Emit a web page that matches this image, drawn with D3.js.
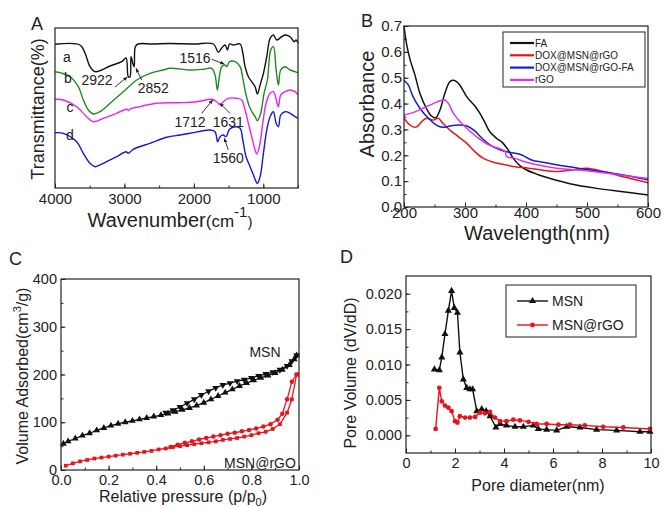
<!DOCTYPE html>
<html>
<head>
<meta charset="utf-8">
<script src="https://cdn.jsdelivr.net/npm/d3@7"></script>
<style>
body { margin: 0; background: #fff; }
svg { display: block; font-family: "Liberation Sans", Arial, sans-serif; }
</style>
</head>
<body>
<script>
// ---------- data ----------
// A: FTIR spectra (wavenumber, transmittance in arbitrary offset units)
var irA = [[4000,143.7],[3640,143],[3568,135],[3496,121.3],[3424,116.3],[3327,118],[3207,122],[3039,126.3],[2977,130],[2944,111.3],[2920,111],[2905,131.3],[2881,125],[2860,121.3],[2843,141.3],[2804,144],[2600,144],[2343,144.5],[2000,144],[1719,144],[1647,135.7],[1599,140],[1550,143],[1517,138],[1487,144],[1430,143],[1334,144],[1295,135],[1262,121.3],[1215,111.3],[1167,106.3],[1118,101.3],[1085,94],[1046,103],[998,114.7],[950,131.3],[902,149.7],[854,153],[806,148],[734,151.3],[686,153],[614,151.3],[556,146.3],[527,148],[500,145]];
var irB = [[4000,116.3],[3928,115.3],[3784,111.3],[3664,101.3],[3592,88],[3520,78],[3448,74],[3352,76.3],[3207,84.7],[3016,96.3],[2823,108],[2631,114.7],[2440,118],[2343,119.7],[2055,118],[1863,118.7],[1743,119.7],[1695,113],[1661,98],[1633,111.3],[1599,121.3],[1550,123],[1527,121.3],[1487,126.3],[1406,126.3],[1334,121.3],[1295,109.7],[1248,93],[1190,79.7],[1118,71.3],[1085,67.3],[1037,74.7],[989,94.7],[941,108],[893,138],[854,141.3],[815,118],[782,103],[749,118],[686,121.3],[614,118],[542,116.3],[500,115.3]];
var irC = [[4000,88.7],[3880,88],[3688,81.3],[3544,71.3],[3448,66.3],[3304,69.7],[3112,74.7],[2967,78.7],[2940,77.3],[2920,79],[2823,80.7],[2535,84.7],[2199,85.3],[1959,86.3],[1743,88.7],[1671,86.3],[1623,83],[1575,86.3],[1503,89.7],[1383,89.7],[1311,88],[1262,78],[1215,64.7],[1167,51.3],[1118,38],[1094,34],[1056,41.3],[1008,64.7],[960,84.7],[902,94.7],[854,96.3],[806,86.3],[782,81.3],[749,93],[686,96.3],[614,98],[542,96.3],[500,93]];
var irD = [[4000,55.3],[3880,54.7],[3688,46.3],[3592,34.7],[3496,24.7],[3424,21.3],[3304,24.7],[3112,31.3],[2977,36.3],[2944,34.7],[2872,38.7],[2631,44.7],[2391,50.7],[2199,53],[2055,54.7],[1767,58],[1695,56.3],[1657,46.3],[1623,51.3],[1575,53],[1536,51.3],[1487,58.7],[1406,61.3],[1334,59.7],[1295,48],[1248,31.3],[1190,21.3],[1142,13],[1104,6.3],[1085,4.7],[1046,11.3],[998,34.7],[950,58],[902,71.3],[854,76.3],[815,64.7],[782,61.3],[749,73],[686,76.3],[614,74.7],[542,71.3],[500,69.7]];
var irNames = ["a", "b", "c", "d"];
var irColors = ["#111111", "#1f8a1f", "#ee22ee", "#1818cc"];
var irNameAt = [[3827,131],[3813,110],[3784,81],[3784,53]];
var irPeaks = [
  {label: "2922", text: [3395,108],  tail: [3136,101],  tip: [2959,111]},
  {label: "2852", text: [2584,99.7], tail: [2751,108],  tip: [2833,119.7]},
  {label: "1516", text: [1983,129.7],tail: [1743,128.7],tip: [1562,124]},
  {label: "1712", text: [2056,66.3], tail: [1887,74.7], tip: [1729,88]},
  {label: "1631", text: [1504,66.3], tail: [1480,74.7], tip: [1624,84.7]},
  {label: "1560", text: [1504,29.7], tail: [1504,38],   tip: [1562,49.7]}
];
var irTicks = [4000, 3000, 2000, 1000];

// B: UV-vis absorbance
var uvFA = [[200,0.70],[205,0.62],[210,0.57],[218,0.51],[226,0.44],[237,0.38],[245,0.352],[252,0.345],[259,0.375],[267,0.44],[275,0.484],[280,0.49],[286,0.485],[292,0.47],[303,0.426],[318,0.385],[325,0.36],[333,0.325],[341,0.29],[352,0.265],[361,0.25],[371,0.22],[380,0.185],[390,0.16],[401,0.143],[420,0.125],[440,0.11],[472,0.09],[516,0.072],[559,0.059],[600,0.046]];
var uvDox = [[200,0.345],[207,0.323],[215,0.31],[221,0.31],[229,0.33],[237,0.343],[248,0.336],[256,0.343],[264,0.323],[275,0.298],[289,0.272],[303,0.246],[316,0.214],[330,0.188],[344,0.175],[360,0.166],[382,0.156],[404,0.15],[425,0.143],[450,0.137],[475,0.143],[500,0.15],[527,0.137],[559,0.117],[600,0.094]];
var uvDoxFA = [[200,0.49],[207,0.472],[215,0.426],[226,0.382],[240,0.343],[253,0.317],[264,0.308],[275,0.313],[289,0.317],[303,0.313],[314,0.298],[328,0.266],[341,0.24],[358,0.22],[377,0.21],[393,0.201],[409,0.182],[430,0.172],[450,0.163],[500,0.145],[550,0.128],[600,0.105]];
var uvRGO = [[200,0.356],[218,0.368],[234,0.385],[248,0.4],[259,0.411],[267,0.414],[273,0.4],[281,0.362],[292,0.33],[306,0.298],[322,0.266],[339,0.24],[355,0.227],[366,0.214],[368,0.195],[382,0.188],[398,0.175],[412,0.166],[450,0.15],[500,0.14],[550,0.125],[600,0.11]];
var uvNames = ["FA", "DOX@MSN@rGO", "DOX@MSN@rGO-FA", "rGO"];
var uvColors = ["#111111", "#e8141c", "#1a1ad0", "#e033e0"];
var uvXTicks = [200, 300, 400, 500, 600];
var uvYTicks = [0, 0.1, 0.2, 0.3, 0.4, 0.5, 0.6, 0.7];

// C: N2 isotherms (relative pressure, volume adsorbed)
var msnAds = [[0.01,55],[0.03,60],[0.06,66],[0.09,72],[0.12,77],[0.15,83],[0.18,88],[0.21,93],[0.24,97],[0.27,100],[0.30,103],[0.33,106],[0.36,109],[0.39,112],[0.42,115],[0.45,118],[0.48,122],[0.51,126],[0.54,130],[0.57,135],[0.60,141],[0.63,148],[0.66,155],[0.69,162],[0.72,169],[0.75,176],[0.78,182],[0.81,188],[0.84,193],[0.87,198],[0.90,203],[0.93,210],[0.96,220],[0.98,232],[0.99,240]];
var msnDes = [[0.99,240],[0.97,228],[0.95,218],[0.92,210],[0.89,205],[0.86,201],[0.83,197],[0.80,193],[0.77,189],[0.74,186],[0.71,182],[0.68,178],[0.65,172],[0.62,165],[0.59,157],[0.56,148],[0.53,140],[0.50,132],[0.47,125],[0.44,120]];
var rgoAds = [[0.02,9],[0.05,14],[0.08,18],[0.11,21],[0.14,24],[0.17,26],[0.20,28],[0.23,30],[0.26,32],[0.29,34],[0.32,36],[0.35,38],[0.38,40],[0.41,43],[0.44,45],[0.47,48],[0.50,50],[0.53,52],[0.56,54],[0.59,56],[0.62,58],[0.65,60],[0.68,63],[0.71,65],[0.74,67],[0.77,70],[0.80,73],[0.83,77],[0.86,80],[0.89,86],[0.92,96],[0.95,120],[0.97,148],[0.99,200]];
var rgoDes = [[0.99,200],[0.97,185],[0.95,148],[0.93,118],[0.91,105],[0.88,96],[0.85,91],[0.82,87],[0.79,84],[0.76,81],[0.73,78],[0.70,76],[0.67,73],[0.64,70],[0.61,67],[0.58,64],[0.55,60],[0.52,57],[0.49,53],[0.46,48]];
var isoXTicks = [0, 0.2, 0.4, 0.6, 0.8, 1.0];
var isoYTicks = [0, 100, 200, 300, 400];

// D: pore size distribution (pore diameter nm, dV/dD)
var poreMSN = [[1.16,0.0093],[1.36,0.0092],[1.46,0.011],[1.59,0.0143],[1.73,0.0176],[1.86,0.0204],[1.97,0.018],[2.1,0.0173],[2.2,0.0117],[2.34,0.0079],[2.48,0.0067],[2.61,0.0065],[2.72,0.0065],[2.89,0.0034],[3.09,0.0037],[3.27,0.0034],[3.43,0.0027],[3.67,0.0011],[3.84,0.0016],[4.1,0.0014],[4.45,0.0012],[4.79,0.0012],[5.2,0.0014],[5.4,0.0009],[5.74,0.0008],[6.15,0.0007],[6.56,0.0012],[7.1,0.0011],[7.78,0.0008],[8.6,0.0007],[9.55,0.0005],[9.96,0.0005]];
var poreRGO = [[1.21,0.0009],[1.36,0.0067],[1.46,0.0048],[1.59,0.0042],[1.73,0.0039],[1.86,0.0034],[2.0,0.002],[2.1,0.0018],[2.2,0.0027],[2.41,0.0025],[2.61,0.0025],[2.82,0.0026],[3.02,0.0032],[3.22,0.0031],[3.43,0.0033],[3.63,0.0025],[3.84,0.002],[4.1,0.002],[4.38,0.0022],[4.65,0.0021],[5.0,0.0019],[5.33,0.0016],[5.74,0.0016],[6.22,0.0015],[6.69,0.0015],[7.3,0.0014],[8.05,0.0012],[8.87,0.0011],[9.96,0.0009]];
var poreNames = ["MSN", "MSN@rGO"];
var poreXTicks = [0, 2, 4, 6, 8, 10];
var poreYTicks = [0, 0.005, 0.010, 0.015, 0.020];

// ---------- helpers ----------
var svg = d3.select("body").append("svg").attr("width", 664).attr("height", 508);
var ink = "#222";

var drawFrame = function (x, y) {
  var x0 = d3.min(x.range()), x1 = d3.max(x.range());
  var y0 = d3.min(y.range()), y1 = d3.max(y.range());
  svg.append("rect").attr("x", x0).attr("y", y0)
    .attr("width", x1 - x0).attr("height", y1 - y0)
    .attr("fill", "none").attr("stroke", ink).attr("stroke-width", 1.2);
};

var styleAxis = function (g, fs) {
  g.select(".domain").remove();
  g.selectAll("line").attr("stroke", ink);
  g.selectAll("text").attr("fill", ink).style("font-size", fs + "px")
    .style("font-family", '"Liberation Sans", Arial, sans-serif');
};

var bottomAxis = function (x, y, major, minor, fmt, fs, pad) {
  var yb = d3.max(y.range());
  if (minor) {
    svg.append("g").attr("transform", "translate(0," + yb + ")")
      .call(d3.axisBottom(x).tickValues(minor).tickSize(-2.5).tickFormat(""))
      .call(styleAxis, fs);
  }
  svg.append("g").attr("transform", "translate(0," + yb + ")")
    .call(d3.axisBottom(x).tickValues(major).tickSize(-4.5).tickPadding(pad).tickFormat(fmt))
    .call(styleAxis, fs);
};

var leftAxis = function (x, y, major, minor, fmt, fs, pad) {
  var xl = d3.min(x.range());
  if (minor) {
    svg.append("g").attr("transform", "translate(" + xl + ",0)")
      .call(d3.axisLeft(y).tickValues(minor).tickSize(-2.5).tickFormat(""))
      .call(styleAxis, fs);
  }
  svg.append("g").attr("transform", "translate(" + xl + ",0)")
    .call(d3.axisLeft(y).tickValues(major).tickSize(-4.5).tickPadding(pad).tickFormat(fmt))
    .call(styleAxis, fs);
};

var panelLetter = function (t, x, y) {
  svg.append("text").attr("x", x).attr("y", y).text(t)
    .attr("fill", ink).style("font-size", "18px");
};

var seq = function (a, b, step) {
  return d3.range(Math.round((b - a) / step) + 1).map(function (i) { return +(a + i * step).toFixed(6); });
};

svg.append("defs").append("marker")
  .attr("id", "arr").attr("viewBox", "0 0 10 10").attr("refX", 9).attr("refY", 5)
  .attr("markerWidth", 5).attr("markerHeight", 5).attr("orient", "auto")
  .append("path").attr("d", "M0,1 L10,5 L0,9 z").attr("fill", ink);

// ---------- A : FTIR ----------
var xA = d3.scaleLinear().domain([4000, 500]).range([55, 298]);
var yA = d3.scaleLinear().domain([0, 160]).range([188, 28]);
var lineA = d3.line().x(function (d) { return xA(d[0]); }).y(function (d) { return yA(d[1]); })
  .curve(d3.curveCatmullRom.alpha(0.5));

[irA, irB, irC, irD].forEach(function (s, i) {
  svg.append("path").datum(s).attr("d", lineA)
    .attr("fill", "none").attr("stroke", irColors[i]).attr("stroke-width", 1.4);
  svg.append("text").attr("x", xA(irNameAt[i][0])).attr("y", yA(irNameAt[i][1]))
    .attr("dy", "0.35em").attr("text-anchor", "middle").text(irNames[i])
    .attr("fill", ink).style("font-size", "14px");
});

irPeaks.forEach(function (p) {
  svg.append("line")
    .attr("x1", xA(p.tail[0])).attr("y1", yA(p.tail[1]))
    .attr("x2", xA(p.tip[0])).attr("y2", yA(p.tip[1]))
    .attr("stroke", ink).attr("stroke-width", 0.9).attr("marker-end", "url(#arr)");
  svg.append("text").attr("x", xA(p.text[0])).attr("y", yA(p.text[1]))
    .attr("dy", "0.35em").attr("text-anchor", "middle").text(p.label)
    .attr("fill", ink).style("font-size", "14px");
});

drawFrame(xA, yA);
bottomAxis(xA, yA, irTicks, seq(500, 4000, 500), d3.format("d"), 15, 5);

svg.append("text").attr("transform", "translate(44,109) rotate(-90)")
  .attr("text-anchor", "middle").text("Transmittance(%)")
  .attr("fill", ink).style("font-size", "18px");
var tA = svg.append("text").attr("x", 170).attr("y", 227).attr("text-anchor", "middle")
  .attr("fill", ink).style("font-size", "20px");
tA.append("tspan").text("Wavenumber");
tA.append("tspan").text("(cm").style("font-size", "17px");
tA.append("tspan").text("-1").attr("dy", -10).style("font-size", "15px");
tA.append("tspan").text(")").attr("dy", 10).style("font-size", "15px");
panelLetter("A", 31, 30);

// ---------- B : UV-vis ----------
var xB = d3.scaleLinear().domain([200, 600]).range([404, 648]);
var yB = d3.scaleLinear().domain([0, 0.7]).range([207, 26]);
var lineB = d3.line().x(function (d) { return xB(d[0]); }).y(function (d) { return yB(d[1]); })
  .curve(d3.curveCatmullRom.alpha(0.5));

[uvFA, uvDox, uvDoxFA, uvRGO].forEach(function (s, i) {
  svg.append("path").datum(s).attr("d", lineB)
    .attr("fill", "none").attr("stroke", uvColors[i]).attr("stroke-width", 1.5);
});

drawFrame(xB, yB);
bottomAxis(xB, yB, uvXTicks, seq(200, 600, 50), d3.format("d"), 15, 0);
leftAxis(xB, yB, uvYTicks, seq(0, 0.7, 0.05), d3.format(".1f"), 15, 2);

var legB = svg.append("g");
legB.append("rect").attr("x", 503).attr("y", 32).attr("width", 142).attr("height", 55)
  .attr("fill", "#fff").attr("stroke", ink).attr("stroke-width", 1);
uvNames.forEach(function (n, i) {
  var yy = 43 + i * 12.3;
  legB.append("line").attr("x1", 510).attr("x2", 534).attr("y1", yy).attr("y2", yy)
    .attr("stroke", uvColors[i]).attr("stroke-width", 2.2);
  legB.append("text").attr("x", 535).attr("y", yy).attr("dy", "0.35em").text(n)
    .attr("fill", ink).style("font-size", "10px");
});

svg.append("text").attr("transform", "translate(374,104) rotate(-90)")
  .attr("text-anchor", "middle").text("Absorbance")
  .attr("fill", ink).style("font-size", "20px");
svg.append("text").attr("x", 537).attr("y", 240).attr("text-anchor", "middle")
  .text("Wavelength(nm)").attr("fill", ink).style("font-size", "20px");
panelLetter("B", 361, 27);

// ---------- C : isotherms ----------
var xC = d3.scaleLinear().domain([0, 1]).range([61, 299]);
var yC = d3.scaleLinear().domain([0, 400]).range([470, 279]);
var lineC = d3.line().x(function (d) { return xC(d[0]); }).y(function (d) { return yC(d[1]); });

var isoSeries = [
  {data: msnAds, color: "#111", shape: d3.symbolTriangle, rot: 0, size: 20},
  {data: msnDes, color: "#111", shape: d3.symbolTriangle, rot: 180, size: 20},
  {data: rgoAds, color: "#e8141c", shape: d3.symbolSquare, rot: 0, size: 14},
  {data: rgoDes, color: "#e8141c", shape: d3.symbolCircle, rot: 0, size: 16}
];
isoSeries.forEach(function (s) {
  svg.append("path").datum(s.data).attr("d", lineC)
    .attr("fill", "none").attr("stroke", s.color).attr("stroke-width", 1.3);
  svg.append("g").selectAll("path").data(s.data).enter().append("path")
    .attr("d", d3.symbol().type(s.shape).size(s.size))
    .attr("transform", function (d) {
      return "translate(" + xC(d[0]) + "," + yC(d[1]) + ") rotate(" + s.rot + ")";
    })
    .attr("fill", s.color);
});

drawFrame(xC, yC);
bottomAxis(xC, yC, isoXTicks, seq(0, 1, 0.1), d3.format(".1f"), 14.5, 5);
leftAxis(xC, yC, isoYTicks, seq(0, 400, 50), d3.format("d"), 14.5, 4);

svg.append("text").attr("x", xC(0.857)).attr("y", yC(237)).attr("text-anchor", "middle")
  .text(poreNames[0]).attr("fill", ink).style("font-size", "14px");
svg.append("text").attr("x", xC(0.836)).attr("y", yC(4)).attr("text-anchor", "middle")
  .text(poreNames[1]).attr("fill", ink).style("font-size", "14px");

var tCy = svg.append("text").attr("transform", "translate(28,376) rotate(-90)")
  .attr("text-anchor", "middle").attr("fill", ink).style("font-size", "16px");
tCy.append("tspan").text("Volume Adsorbed(cm");
tCy.append("tspan").text("3").attr("dy", -7).style("font-size", "11px");
tCy.append("tspan").text("/g)").attr("dy", 7);
var tCx = svg.append("text").attr("x", 183).attr("y", 502).attr("text-anchor", "middle")
  .attr("fill", ink).style("font-size", "16px");
tCx.append("tspan").text("Relative pressure (p/p");
tCx.append("tspan").text("0").attr("dy", 4).style("font-size", "11px");
tCx.append("tspan").text(")").attr("dy", -4);
panelLetter("C", 9, 265);

// ---------- D : pore size ----------
var xD = d3.scaleLinear().domain([0, 10]).range([406, 651]);
var yD = d3.scaleLinear().domain([-0.0025, 0.0225]).range([453, 276]);
var lineD = d3.line().x(function (d) { return xD(d[0]); }).y(function (d) { return yD(d[1]); });

var poreSeries = [
  {data: poreMSN, color: "#111", shape: d3.symbolTriangle, size: 22},
  {data: poreRGO, color: "#e8141c", shape: d3.symbolCircle, size: 18}
];
poreSeries.forEach(function (s) {
  svg.append("path").datum(s.data).attr("d", lineD)
    .attr("fill", "none").attr("stroke", s.color).attr("stroke-width", 1.4);
  svg.append("g").selectAll("path").data(s.data).enter().append("path")
    .attr("d", d3.symbol().type(s.shape).size(s.size))
    .attr("transform", function (d) { return "translate(" + xD(d[0]) + "," + yD(d[1]) + ")"; })
    .attr("fill", s.color);
});

drawFrame(xD, yD);
bottomAxis(xD, yD, poreXTicks, seq(0, 10, 1), d3.format("d"), 14.5, 5);
leftAxis(xD, yD, poreYTicks, seq(0, 0.02, 0.0025), d3.format(".3f"), 14.5, 4);

var legD = svg.append("g");
legD.append("rect").attr("x", 506).attr("y", 285).attr("width", 130).attr("height", 52)
  .attr("fill", "#fff").attr("stroke", ink).attr("stroke-width", 1);
poreSeries.forEach(function (s, i) {
  var yy = 301 + i * 24;
  legD.append("line").attr("x1", 517).attr("x2", 548).attr("y1", yy).attr("y2", yy)
    .attr("stroke", s.color).attr("stroke-width", 1.4);
  legD.append("path").attr("d", d3.symbol().type(s.shape).size(s.size)())
    .attr("transform", "translate(532.5," + yy + ")").attr("fill", s.color);
  legD.append("text").attr("x", 552).attr("y", yy).attr("dy", "0.35em").text(poreNames[i])
    .attr("fill", ink).style("font-size", "14px");
});

svg.append("text").attr("transform", "translate(356,373) rotate(-90)")
  .attr("text-anchor", "middle").text("Pore Volume (dV/dD)")
  .attr("fill", ink).style("font-size", "16px");
svg.append("text").attr("x", 538).attr("y", 491).attr("text-anchor", "middle")
  .text("Pore diameter(nm)").attr("fill", ink).style("font-size", "16px");
panelLetter("D", 340, 263);
</script>
</body>
</html>
